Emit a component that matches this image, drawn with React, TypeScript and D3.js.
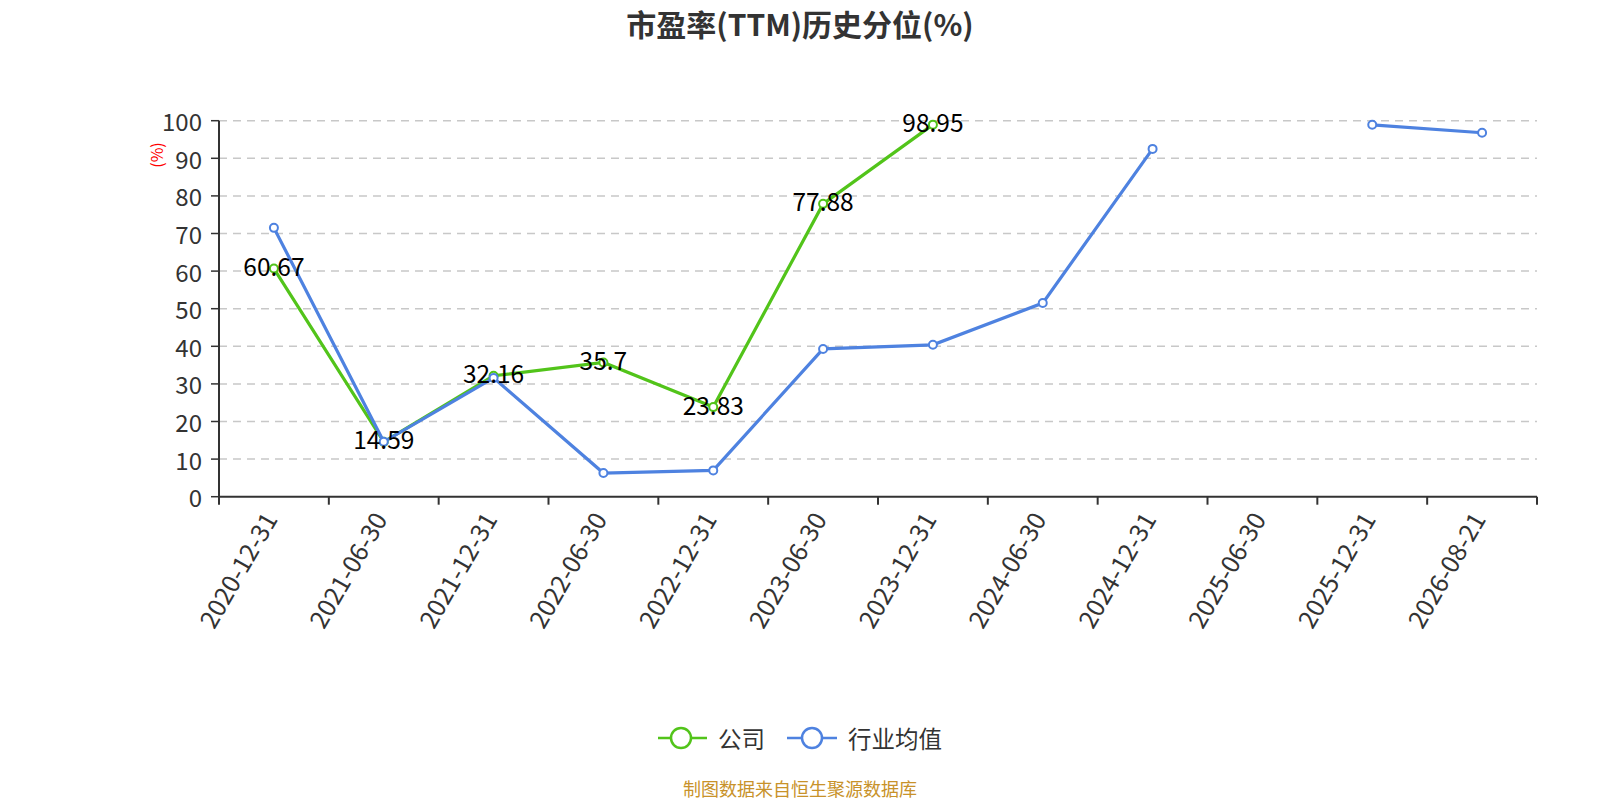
import React from "react";
import * as d3 from "d3";

const categories = ["2020-12-31","2021-06-30","2021-12-31","2022-06-30","2022-12-31","2023-06-30","2023-12-31","2024-06-30","2024-12-31","2025-06-30","2025-12-31","2026-08-21"];
const companyValues: (number | null)[] = [60.67, 14.59, 32.16, 35.7, 23.83, 77.88, 98.95, null, null, null, null, null];
const industryValues: (number | null)[] = [71.5, 14.6, 31.6, 6.3, 7.0, 39.3, 40.4, 51.5, 92.5, null, 98.9, 96.8];
const yTicks = [0, 10, 20, 30, 40, 50, 60, 70, 80, 90, 100];
const seriesNames = ["公司", "行业均值"];

const GREEN = "#52c41a";
const BLUE = "#4e82e0";
const FONT = "'Noto Sans CJK SC', 'Noto Sans', sans-serif";

export default function App() {
  const W = 1600, H = 800;
  const left = 219, right = 1537, top = 120.7, bottom = 496.7;
  const x = d3.scaleBand<string>().domain(categories).range([left, right]).padding(0);
  const y = d3.scaleLinear().domain([0, 100]).range([bottom, top]);
  const cx = (c: string) => (x(c) as number) + x.bandwidth() / 2;

  const line = d3.line<number | null>()
    .defined((d) => d !== null)
    .x((_, i) => cx(categories[i]))
    .y((d) => y(d as number));

  const series = [
    { name: seriesNames[0], values: companyValues, color: GREEN, labels: true },
    { name: seriesNames[1], values: industryValues, color: BLUE, labels: false },
  ];

  const boundaries = [...categories.map((c) => x(c) as number), right];
  const ly = 738;

  return (
    <svg width={W} height={H} style={{ position: "absolute", left: 0, top: 0, background: "#fff" }} fontFamily={FONT}>
      <text x={800} y={23} textAnchor="middle" dominantBaseline="central" fontSize={30} fontWeight="bold" fill="#333">市盈率(TTM)历史分位(%)</text>

      {yTicks.map((t) => (
        <g key={t}>
          {t !== 0 && (
            <line x1={left} x2={right} y1={y(t)} y2={y(t)} stroke="#c8c8c8" strokeWidth={1.5} strokeDasharray="8,6" />
          )}
          <line x1={left - 8} x2={left} y1={y(t)} y2={y(t)} stroke="#333" strokeWidth={1.5} />
          <text x={202} y={y(t)} textAnchor="end" dominantBaseline="central" fontSize={24} fill="#333">{t}</text>
        </g>
      ))}
      <text transform={`translate(156,155) rotate(-90)`} textAnchor="middle" dominantBaseline="central" fontSize={16} fill="red">(%)</text>

      <line x1={left} x2={left} y1={top} y2={bottom} stroke="#333" strokeWidth={2} />
      <line x1={left} x2={right} y1={bottom} y2={bottom} stroke="#333" strokeWidth={2} />
      {boundaries.map((b, i) => (
        <line key={i} x1={b} x2={b} y1={bottom} y2={bottom + 8} stroke="#333" strokeWidth={2} />
      ))}
      {categories.map((c) => (
        <text key={c} transform={`translate(${cx(c) - 5},${bottom + 17}) rotate(-60)`} textAnchor="end" dominantBaseline="central" fontSize={25} fill="#333">{c}</text>
      ))}

      {series.map((s) => (
        <g key={s.name}>
          <path d={line(s.values) || ""} fill="none" stroke={s.color} strokeWidth={3.2} />
          {s.values.map((v, i) => v === null ? null : (
            <circle key={i} cx={cx(categories[i])} cy={y(v)} r={4} fill="#fff" stroke={s.color} strokeWidth={2} />
          ))}
        </g>
      ))}
      {series.filter((s) => s.labels).map((s) => (
        <g key={s.name + "l"}>
          {s.values.map((v, i) => v === null ? null : (
            <text key={i} x={cx(categories[i])} y={y(v) - 3} textAnchor="middle" dominantBaseline="central" fontSize={24.5} fill="#000">{v}</text>
          ))}
        </g>
      ))}

      <g>
        <line x1={658} x2={707} y1={ly} y2={ly} stroke={GREEN} strokeWidth={2.5} />
        <circle cx={681} cy={ly} r={10} fill="#fff" stroke={GREEN} strokeWidth={2.5} />
        <text x={718} y={ly} dominantBaseline="central" fontSize={23.5} fill="#333">{seriesNames[0]}</text>
        <line x1={787} x2={837} y1={ly} y2={ly} stroke={BLUE} strokeWidth={2.5} />
        <circle cx={812} cy={ly} r={10} fill="#fff" stroke={BLUE} strokeWidth={2.5} />
        <text x={848} y={ly} dominantBaseline="central" fontSize={23.5} fill="#333">{seriesNames[1]}</text>
      </g>
      <text x={800} y={788} textAnchor="middle" dominantBaseline="central" fontSize={18} fill="#c8922a">制图数据来自恒生聚源数据库</text>
    </svg>
  );
}
